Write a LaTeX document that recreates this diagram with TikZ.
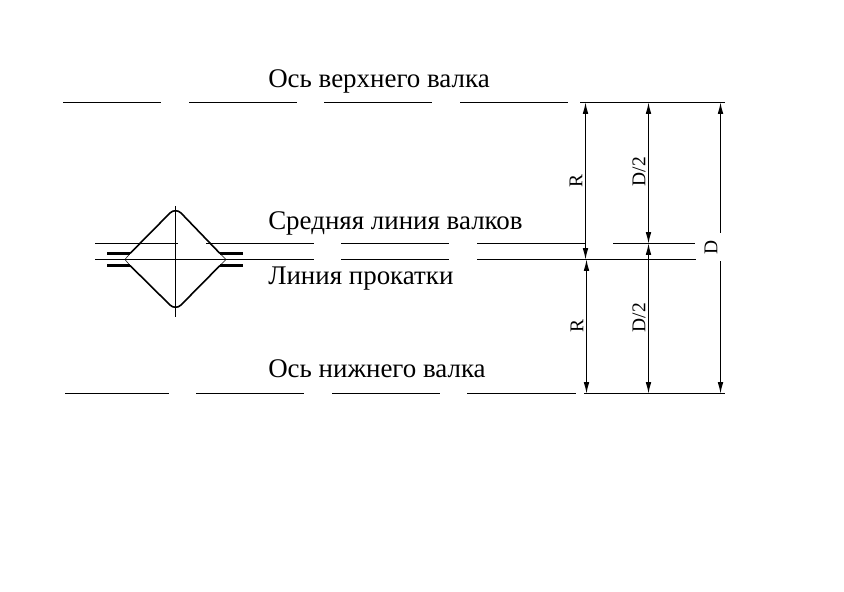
\documentclass[tikz,border=0pt]{standalone}
\usepackage{fontspec}
\setmainfont{Liberation Serif}
\usetikzlibrary{arrows.meta}
\tikzset{
  axisline/.style={line width=0.7pt},
  thinline/.style={line width=0.6pt},
  boldline/.style={line width=1.2pt},
  stubline/.style={line width=1.6pt},
  dimline/.style={line width=0.7pt,{Latex[length=8.5pt,width=4.2pt]}-{Latex[length=8.5pt,width=4.2pt]}},
  caption/.style={anchor=base west,inner sep=0pt,font=\fontsize{20.2}{22}\selectfont},
  dimlabel/.style={rotate=90,inner sep=0pt,font=\fontsize{14.6}{17}\selectfont},
}
\begin{document}
\begin{tikzpicture}[x=0.75pt,y=-0.75pt]
\useasboundingbox (0,0) rectangle (844,592);

	% captions
	\node[caption] (captop) at (268,88) {Ось верхнего валка};
	\node[caption] (capmid) at (268,229) {Средняя линия валков};
	\node[caption] (caproll) at (268,285) {Линия прокатки};
	\node[caption] (capbot) at (268,377) {Ось нижнего валка};

	% long axes
	\foreach \xa/\xb in {63/161,189/297,324/432,460/568,580/725}
		\draw[axisline] (\xa,102.5) -- (\xb,102.5);
	\foreach \xa/\xb in {95/178,206/314,341/449,477/585,613/695}
		\draw[thinline] (\xa,243.5) -- (\xb,243.5);
	\foreach \xa/\xb in {95/314,341/449,477/696}
		\draw[thinline] (\xa,259.5) -- (\xb,259.5);
	\foreach \xa/\xb in {65/169,196/304,332/440,467/576,584/725}
		\draw[axisline] (\xa,393.5) -- (\xb,393.5);

	% section of the bar
	\draw[thinline] (175.5,206) -- (175.5,317);
	\draw[boldline] (130,253.5) -- (170,213) to[out=45,in=135] (181,213) -- (220,253.5);
	\draw[boldline] (130,265.5) -- (170,305) to[out=-45,in=-135] (181,305) -- (220,265.5);
	\draw[stubline] (107,253.5) -- (130,253.5);
	\draw[stubline] (107,265.5) -- (130,265.5);
	\draw[stubline] (220,253.5) -- (243,253.5);
	\draw[stubline] (220,265.5) -- (243,265.5);
	\draw[line width=0.4pt] (130,253.5) -- (125,259.5) -- (130,265.5);
	\draw[line width=0.4pt] (220,253.5) -- (226,259.5) -- (220,265.5);

	% dimension points
	\coordinate (rtop) at (585.5,102.5);
	\coordinate (rmid) at (585.5,259.5);
	\coordinate (rlow) at (586.5,259.5);
	\coordinate (rbot) at (586.5,393.5);
	\coordinate (htop) at (648.5,102.5);
	\coordinate (hmid) at (648.5,243.5);
	\coordinate (hbot) at (648.5,393.5);
	\coordinate (dtop) at (720.5,102.5);
	\coordinate (dbot) at (720.5,393.5);

	\draw[dimline] (rtop) -- (rmid);
	\draw[dimline] (rbot) -- (rlow);
	\draw[dimline] (htop) -- (hmid);
	\draw[dimline] (hbot) -- (hmid);
	\draw[dimline] (dtop) -- (dbot);
	\fill[white] (716,233) rectangle (724,261);

	\node[dimlabel] (labr) at (576,181.5) {R};
	\node[dimlabel] (labh) at (639,171.5) {D/2};
	\node[dimlabel] (labrr) at (577,326.5) {R};
	\node[dimlabel] (labhh) at (639,317.5) {D/2};
	\node[dimlabel] (labd) at (711,247) {D};

\end{tikzpicture}
\end{document}
